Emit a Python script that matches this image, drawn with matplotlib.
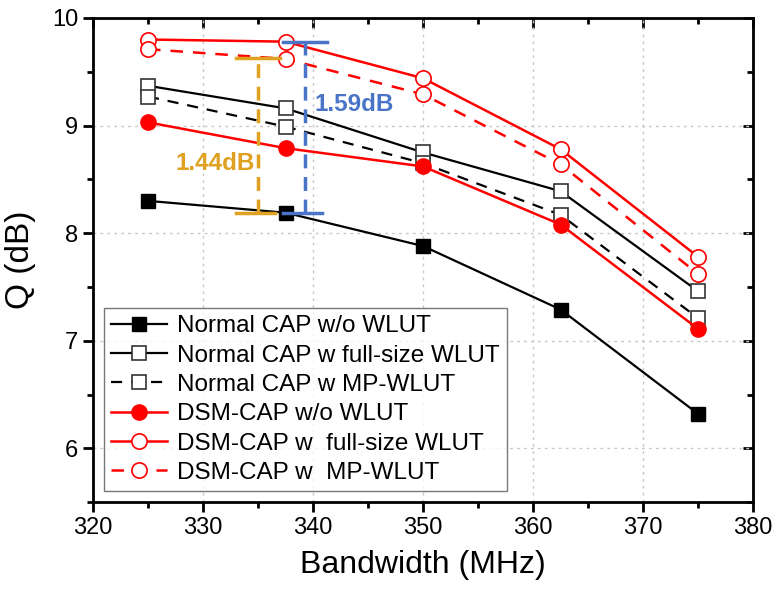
import numpy as np
import matplotlib.pyplot as plt
from matplotlib.ticker import MultipleLocator

plt.rcParams['font.family'] = ['Liberation Sans', 'DejaVu Sans']

bandwidth = [325, 337.5, 350, 362.5, 375]

normal_wo = [8.30, 8.19, 7.88, 7.29, 6.32]
normal_full = [9.37, 9.16, 8.75, 8.39, 7.46]
normal_mp = [9.27, 8.99, 8.65, 8.17, 7.21]
dsm_wo = [9.03, 8.79, 8.62, 8.08, 7.11]
dsm_full = [9.80, 9.78, 9.44, 8.78, 7.78]
dsm_mp = [9.71, 9.62, 9.29, 8.64, 7.62]

labels = ['Normal CAP w/o WLUT', 'Normal CAP w full-size WLUT', 'Normal CAP w MP-WLUT',
          'DSM-CAP w/o WLUT', 'DSM-CAP w  full-size WLUT', 'DSM-CAP w  MP-WLUT']

# gap annotations: (x, low, high, text)
gap_orange = (335.0, 8.19, 9.63, '1.44dB')
gap_blue = (339.3, 8.19, 9.78, '1.59dB')

red = '#ff0000'
orange = '#e0a020'
blue = '#4a74c8'

fig = plt.figure(figsize=(7.72, 5.9), dpi=100)
ax = fig.add_axes([0.1205, 0.149, 0.855, 0.8205])

ms = 10
ax.plot(bandwidth, normal_wo, '-', color='k', lw=1.6, marker='s', ms=ms, mfc='k', mec='k', label=labels[0], zorder=3)
ax.plot(bandwidth, normal_full, '-', color='k', lw=1.6, marker='s', ms=ms, mfc='white', mec='#333333', mew=1.2, label=labels[1], zorder=3)
ax.plot(bandwidth, normal_mp, '--', color='k', lw=1.6, dashes=(5, 4), marker='s', ms=ms, mfc='white', mec='#333333', mew=1.2, label=labels[2], zorder=3)
ax.plot(bandwidth, dsm_wo, '-', color=red, lw=1.8, marker='o', ms=ms + 1, mfc=red, mec=red, label=labels[3], zorder=4)
ax.plot(bandwidth, dsm_full, '-', color=red, lw=1.8, marker='o', ms=ms + 1, mfc='white', mec=red, mew=1.2, label=labels[4], zorder=4)
ax.plot(bandwidth, dsm_mp, '--', color=red, lw=1.8, dashes=(5, 4), marker='o', ms=ms + 1, mfc='white', mec=red, mew=1.2, label=labels[5], zorder=4)

# gap brackets
for (gx, lo, hi, txt), c in [(gap_orange, orange), (gap_blue, blue)]:
    ax.plot([gx, gx], [lo, hi], color=c, lw=2.5, dashes=(4, 2.5), zorder=5)
    ax.plot([gx - 2.0, gx + 2.0], [hi, hi], color=c, lw=2.5, zorder=5)
    ax.plot([gx - 2.0, gx + 1.5], [lo, lo], color=c, lw=2.5, zorder=5)
ax.text(gap_orange[0] - 0.3, 8.65, gap_orange[3], color=orange, fontsize=17.5,
        fontweight='bold', ha='right', va='center', zorder=6)
ax.text(gap_blue[0] + 0.8, 9.20, gap_blue[3], color=blue, fontsize=17.5,
        fontweight='bold', ha='left', va='center', zorder=6)

ax.set_xlim(320, 380)
ax.set_ylim(5.5, 10)
ax.xaxis.set_major_locator(MultipleLocator(10))
ax.xaxis.set_minor_locator(MultipleLocator(5))
ax.yaxis.set_major_locator(MultipleLocator(1))
ax.yaxis.set_minor_locator(MultipleLocator(0.5))
ax.grid(True, which='major', color='#c8c8c8', ls=(0, (2, 3)), lw=1.0)
ax.set_axisbelow(True)

for sp in ax.spines.values():
    sp.set_linewidth(2.0)
ax.tick_params(which='both', direction='out', width=2.0, labelsize=17)
ax.tick_params(which='major', length=7)
ax.tick_params(which='minor', length=4)

# inward ticks on top/right (mirrored)
sx = ax.secondary_xaxis('top')
sx.xaxis.set_major_locator(MultipleLocator(10))
sx.xaxis.set_minor_locator(MultipleLocator(5))
sx.tick_params(which='both', direction='in', width=2.0, labeltop=False)
sx.tick_params(which='major', length=7)
sx.tick_params(which='minor', length=4)
sy = ax.secondary_yaxis('right')
sy.yaxis.set_major_locator(MultipleLocator(1))
sy.yaxis.set_minor_locator(MultipleLocator(0.5))
sy.tick_params(which='both', direction='in', width=2.0, labelright=False)
sy.tick_params(which='major', length=7)
sy.tick_params(which='minor', length=4)

ax.set_xlabel('Bandwidth (MHz)', fontsize=23, labelpad=8)
ax.set_ylabel('Q (dB)', fontsize=24, labelpad=12)

leg = ax.legend(loc='lower left', bbox_to_anchor=(0.0, 0.0), fontsize=17.5,
                frameon=True, fancybox=False, edgecolor='#555555',
                handlelength=2.3, handletextpad=0.4, labelspacing=0.3,
                borderpad=0.3, borderaxespad=0.45)
leg.get_frame().set_linewidth(1.0)

fig.savefig('out.png', dpi=100)
